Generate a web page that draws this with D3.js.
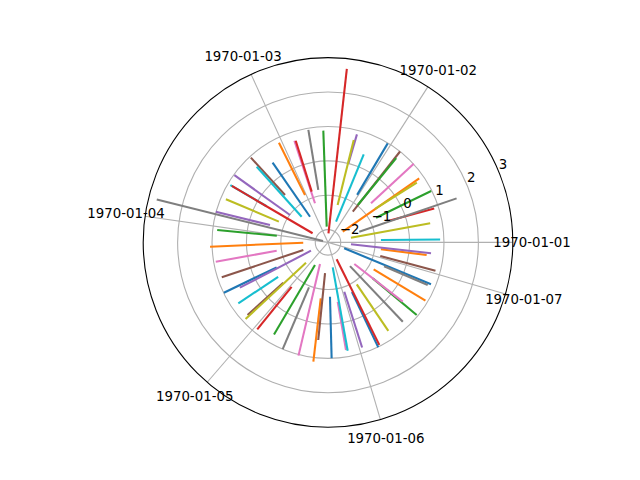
<!DOCTYPE html>
<html><head><meta charset="utf-8">
<script src="https://cdn.jsdelivr.net/npm/d3@7"></script>
<style>body{margin:0;background:#fff}svg{display:block}</style>
</head><body>
<svg id="chart" width="640" height="480"></svg>
<script>
// Series are listed in plotting order (series i uses colour i of the cycle).
// theta values are in days since 1970-01-01 (one day = one radian on the polar axis)
const thetaStart = [
  1.0210, 0.6283, 0.4747, 0.3421, 1.3177, 0.8936, 0.7383, 0.3299, 0.2007, 2.6093,
  2.1817, 2.0228, 0.8988, 1.5184, 2.5168, 2.3073, 1.8919, 1.7541, 0.6178, 0.0454,
  3.5936, 3.1538, 1.6528, 1.8815, 2.8501, 3.4401, 3.3021, 2.8623, 1.3177, 1.2025,
  4.7490, 4.5832, 3.0124, 2.6058, 3.5954, 3.8746, 4.3581, 4.3127, 2.7419, 2.3684,
  5.1627, 5.7509, 4.1905, 4.0265, 5.0318, 4.6164, 4.8747, 5.4611, 3.8868, 3.7455,
  5.9358, 6.1541, 5.6060, 5.1871, 6.2012, 6.0284, 5.5956, 5.8818, 5.3128, 4.8991
];
const rStart = [
  -0.75, -1.84, -0.80, -0.52,  0.00, -1.22, -0.68, -1.41, -1.69, -0.30,
  -1.46, -0.84, -0.98, -2.11, -1.01, -0.51, -1.17, -0.82, -0.69, -0.83,
  -0.71, -1.65, -1.91, -0.82, -0.61, -1.62, -0.86, -2.22, -1.25, -1.72,
  -0.79, -0.73, -0.87, -1.85, -1.82, -0.62, -1.70, -0.95, -0.82, -1.30,
  -0.77, -0.83, -1.61, -0.70, -0.86, -1.47, -0.62, -1.43, -1.50, -0.61,
  -1.87, -0.82, -0.70, -1.82, -1.70, -0.80, -1.38, -0.60, -0.89, -1.63
];
const thetaEnd = [
  1.0280, 0.6126, 0.4625, 0.3089, 1.3090, 0.9006, 0.7418, 0.3299, 0.1850, 2.6110,
  2.1782, 2.0281, 0.8901, 1.4626, 2.5185, 2.3091, 1.8902, 1.7436, 0.5917, 0.0262,
  3.5919, 3.1783, 1.6127, 1.8780, 2.8746, 3.4592, 3.3126, 2.8955, 1.3247, 1.1851,
  4.7438, 4.5902, 3.0299, 2.6110, 3.6163, 3.8764, 4.4576, 4.3110, 2.7419, 2.3265,
  5.1592, 5.7439, 4.1818, 4.0300, 5.0265, 4.6129, 4.8782, 5.4681, 3.8903, 3.7385,
  5.8975, 6.1558, 5.5973, 5.1766, 6.1785, 6.0249, 5.6129, 5.8800, 5.3110, 4.8921
];
const rEnd = [
  0.99, 0.87, 0.98, 0.87, 0.88, 1.00, 1.01, 1.58, 0.65, 0.92,
  0.45, 0.86, 0.78, 2.70, 0.98, 0.96, 0.74, 0.95, 0.74, 0.89,
  0.99, 1.06, 0.88, 0.73, 1.01, 0.88, 0.94, 2.76, 0.70, 0.39,
  1.00, 1.12, 0.87, 0.87, 0.51, 0.78, 1.03, 1.00, 0.85, 0.65,
  1.01, 0.93, 0.73, 0.89, 0.84, 0.48, 0.80, 0.80, 0.90, 0.78,
  0.86, 0.52, 0.96, 0.96, 0.64, 0.86, 0.40, 0.78, 0.74, 0.83
];
const thetaTicks = [0, 1, 2, 3, 4, 5, 6];   // days since epoch
const rTicks = [-2, -1, 0, 1, 2, 3];
const rLimits = [-2.37, 3];

const W = 640, H = 480;
const cx = 328, cy = 242.4, R = 184.8;
const font = "'DejaVu Sans', sans-serif";
const svg = d3.select("#chart");
svg.append("rect").attr("width", W).attr("height", H).attr("fill", "#fff");
const g = svg.append("g").attr("transform", `translate(${cx},${cy})`);

const rs = d3.scaleLinear().domain(rLimits).range([0, R]);
const ang = t => Math.PI / 2 - t; // math angle (ccw from east) -> d3 angle (cw from north)
const line = d3.lineRadial().angle(d => ang(d.t)).radius(d => rs(d.r));

// radial grid circles
g.selectAll("circle.grid").data(rTicks.filter(v => v < rLimits[1])).enter()
  .append("circle").attr("r", d => rs(d))
  .attr("fill", "none").attr("stroke", "#b0b0b0").attr("stroke-width", 1.1);
// theta grid lines
g.selectAll("path.tgrid").data(thetaTicks).enter().append("path")
  .attr("d", t => line([{t, r: rLimits[0]}, {t, r: rLimits[1]}]))
  .attr("stroke", "#b0b0b0").attr("stroke-width", 1.1).attr("fill", "none");

// data lines
const color = d3.scaleOrdinal(d3.schemeCategory10);
const series = thetaStart.map((t, i) => [{t, r: rStart[i]}, {t: thetaEnd[i], r: rEnd[i]}]);
g.selectAll("path.series").data(series).enter().append("path")
  .attr("d", d => line(d))
  .attr("fill", "none")
  .attr("stroke", (d, i) => color(i % 10))
  .attr("stroke-width", 2.08)
  .attr("stroke-linecap", "butt");

// outer spine
g.append("circle").attr("r", rs(rLimits[1])).attr("fill", "none")
  .attr("stroke", "#000").attr("stroke-width", 1.1);

// theta tick labels
const fmt = d3.utcFormat("%Y-%m-%d");
g.selectAll("text.tl").data(thetaTicks).enter().append("text")
  .attr("x", t => 204 * Math.cos(t))
  .attr("y", t => -204 * Math.sin(t))
  .attr("text-anchor", "middle").attr("dominant-baseline", "central")
  .attr("font-family", font).attr("font-size", "13.33px").attr("fill", "#000")
  .text(t => fmt(new Date(t * 86400000)));

// radial tick labels at 22.5 degrees
const la = 22.5 * Math.PI / 180;
g.selectAll("text.rl").data(rTicks).enter().append("text")
  .attr("x", v => rs(v) * Math.cos(la))
  .attr("y", v => -rs(v) * Math.sin(la) - 3.1)
  .attr("text-anchor", "start")
  .attr("font-family", font).attr("font-size", "13.33px").attr("fill", "#000")
  .text(v => v < 0 ? "\u2212" + Math.abs(v) : String(v));
</script>
</body></html>
